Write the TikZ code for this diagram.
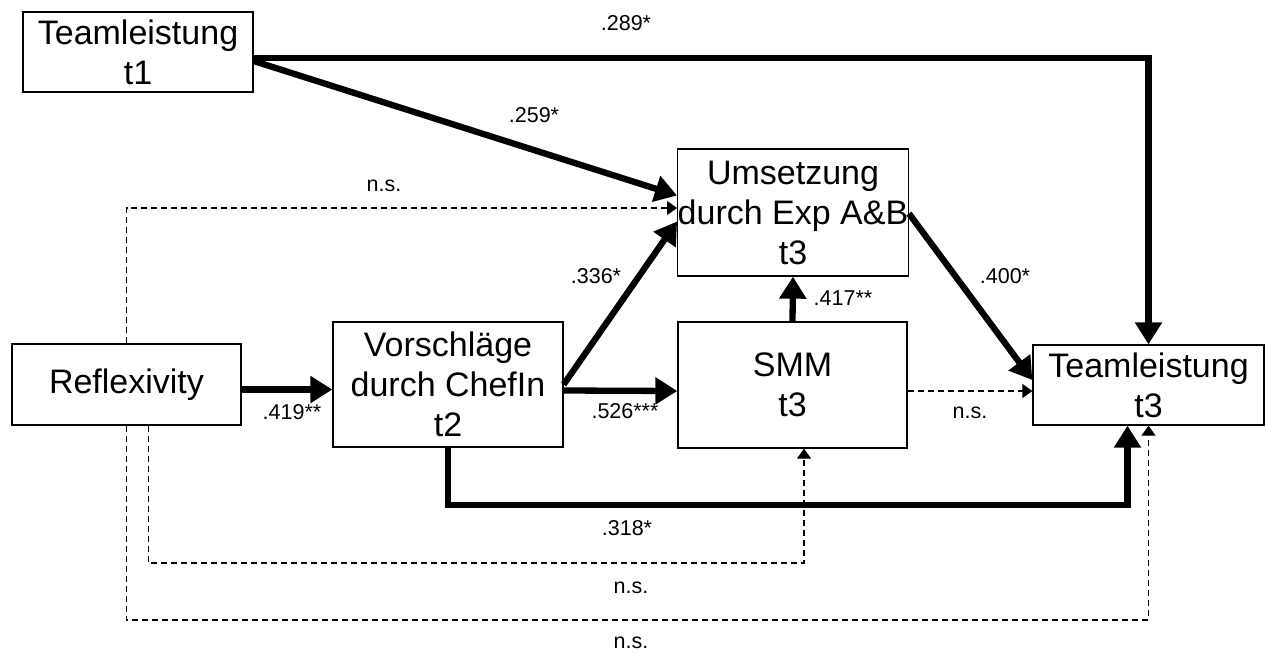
\documentclass[tikz,border=0pt]{standalone}
\usepackage{fontspec}
\setmainfont{Liberation Sans}
\usetikzlibrary{arrows.meta}
\begin{document}
\begin{tikzpicture}[x=1pt,y=-1pt,
  box/.style={draw,line width=1.3pt,minimum width=230pt,inner sep=0pt,align=center,font=\fontsize{34}{40}\selectfont},
  strong/.style={line width=6.3pt,-{Triangle[length=22pt,width=26pt]}},
  weak/.style={line width=1.2pt,dash pattern=on 6pt off 4pt,-{Triangle[length=10pt,width=14pt]}},
  lab/.style={font=\fontsize{21.5}{24}\selectfont,inner sep=0pt}]
\useasboundingbox (0,0) rectangle (1266,653);
\node[box,minimum height=80pt] (T1) at (138,52) {Teamleistung\\t1};
\node[box,minimum height=127pt] (U) at (793,212.5) {Umsetzung\\durch Exp A\&B\\t3};
\node[box,minimum width=229pt,minimum height=81pt] (R) at (126.5,384.5) {Reflexivity};
\node[box,minimum height=125pt] (V) at (448,384.5) {Vorschläge\\durch ChefIn\\t2};
\node[box,minimum width=229pt,minimum height=126pt] (S) at (792.5,385) {SMM\\t3};
\node[box,minimum width=231pt,minimum height=80pt] (T3) at (1148.5,385) {Teamleistung\\t3};
\coordinate (lowA) at (0,505);
\coordinate (lowB) at (0,563);
\coordinate (lowC) at (0,620);
% thick paths
\draw[strong] ([yshift=-6pt]T1.east) -| (T3.north);
\draw[strong] ([yshift=-9pt]T1.east) -- ([yshift=17pt]U.west);
\draw[strong] ([yshift=-5pt]R.east) -- ([yshift=-5pt]V.west);
\draw[strong] (V.east) -- ([yshift=-9pt]U.west);
\draw[strong] ([yshift=-6pt]V.east) -- ([yshift=-6pt]S.west);
\draw[strong] (S.north) -- (U.south);
\draw[strong] ([yshift=-1pt]U.east) -- ([yshift=5pt]T3.west);
\draw[strong] (V.south) -- (V.south |- lowA) -| ([xshift=-21pt]T3.south);
% dashed paths
\draw[weak] (R.north) |- ([yshift=4.5pt]U.west);
\draw[weak] ([yshift=-6pt]S.east) -- ([yshift=-6pt]T3.west);
\draw[weak] ([xshift=22pt]R.south) -- ([xshift=22pt]R.south |- lowB) -| ([xshift=11.5pt]S.south);
\draw[weak] (R.south) -- (R.south |- lowC) -| (T3.south);
% labels
\node[lab] (l1) at (626,23) {.289*};
\node[lab] (l2) at (534,115) {.259*};
\node[lab] (l3) at (384,186) {n.s.};
\node[lab] (l4) at (596,276) {.336*};
\node[lab] (l5) at (843,298) {.417**};
\node[lab] (l6) at (1005,276) {.400*};
\node[lab] (l7) at (292,412) {.419**};
\node[lab] (l8) at (625,411) {.526***};
\node[lab] (l9) at (970,413) {n.s.};
\node[lab] (l10) at (627,528) {.318*};
\node[lab] (l11) at (631,588) {n.s.};
\node[lab] (l12) at (631,643) {n.s.};
\end{tikzpicture}
\end{document}
